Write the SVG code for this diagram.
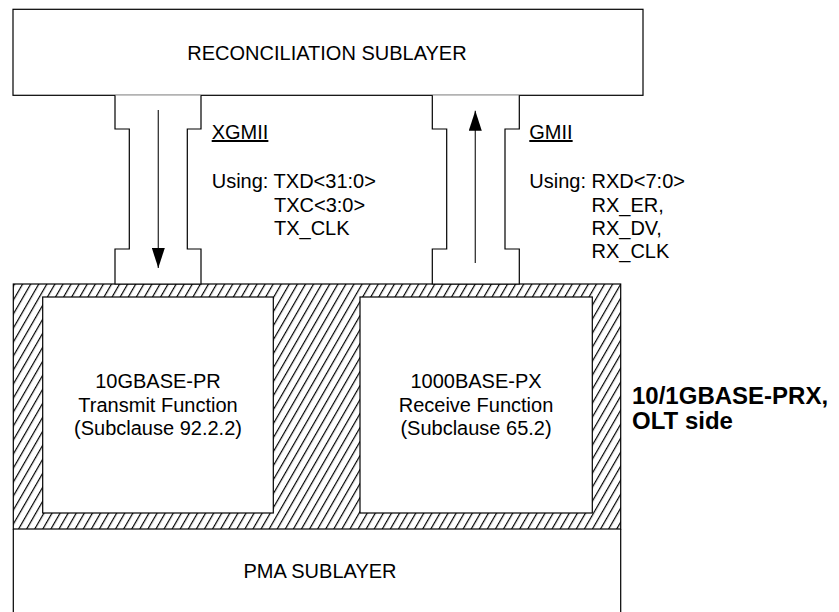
<svg xmlns="http://www.w3.org/2000/svg" width="839" height="612" viewBox="0 0 839 612">
<style>
.box{fill:#fff;stroke:#000;stroke-width:1.2}
.t{font-family:"Liberation Sans",Arial,sans-serif;font-size:20px;fill:#000}
.b{font-family:"Liberation Sans",Arial,sans-serif;font-size:24px;font-weight:bold;fill:#000}
.ln{stroke:#000;stroke-width:1.2;fill:none}
.arr{stroke:#333;stroke-width:1.3;fill:none}
</style>
<defs>
<pattern id="hatch" width="7" height="7" patternUnits="userSpaceOnUse" patternTransform="rotate(30)">
<rect width="7" height="7" fill="#fff"/>
<line x1="0.6" y1="0" x2="0.6" y2="7" stroke="#000" stroke-width="1.2"/>
</pattern>
<marker id="ah" markerWidth="20" markerHeight="13" refX="20" refY="6.5" orient="auto" markerUnits="userSpaceOnUse" viewBox="0 0 20 13">
<path d="M0,0 L20,6.5 L0,13 Z" fill="#000"/>
</marker>
</defs>
<g id="rs">
<rect class="box" x="13" y="9.3" width="630" height="86"/>
<text class="t" x="327" y="60" text-anchor="middle">RECONCILIATION SUBLAYER</text>
</g>
<g id="prx">
<rect x="13.3" y="284" width="607.4" height="245" fill="url(#hatch)" stroke="#000" stroke-width="1.2"/>
</g>
<g id="pma">
<path class="ln" d="M13.3,529 V612 M620.7,529 V612"/>
<text class="t" x="320" y="578" text-anchor="middle">PMA SUBLAYER</text>
</g>
<g id="tx">
<rect class="box" x="42.7" y="297" width="230.6" height="216"/>
<text class="t" x="158" y="388" text-anchor="middle">10GBASE-PR</text>
<text class="t" x="158" y="411.5" text-anchor="middle">Transmit Function</text>
<text class="t" x="158" y="435" text-anchor="middle">(Subclause 92.2.2)</text>
</g>
<g id="rx">
<rect class="box" x="360" y="297" width="232.3" height="216"/>
<text class="t" x="476" y="388" text-anchor="middle">1000BASE-PX</text>
<text class="t" x="476" y="411.5" text-anchor="middle">Receive Function</text>
<text class="t" x="476" y="435" text-anchor="middle">(Subclause 65.2)</text>
</g>
<g id="xgmii">
<path class="box" d="M115,95.3 V129 H129.3 V249 H115 V284 H201 V249 H187.3 V129 H201 V95.3"/>
<text class="t" x="211.7" y="139" text-decoration="underline">XGMII</text>
<text class="t" x="211.7" y="188">Using: TXD&lt;31:0&gt;</text>
<text class="t" x="274" y="211.5">TXC&lt;3:0&gt;</text>
<text class="t" x="274" y="235">TX_CLK</text>
</g>
<g id="gmii">
<path class="box" d="M432.3,95.3 V129 H446.7 V249 H432.3 V284 H519.3 V249 H505 V129 H519.3 V95.3"/>
<text class="t" x="529.3" y="139" text-decoration="underline">GMII</text>
<text class="t" x="529.3" y="188">Using: RXD&lt;7:0&gt;</text>
<text class="t" x="591.5" y="211.5">RX_ER,</text>
<text class="t" x="591.5" y="235">RX_DV,</text>
<text class="t" x="591.5" y="258">RX_CLK</text>
</g>
<g id="side">
<text class="b" x="632" y="404">10/1GBASE-PRX,</text>
<text class="b" x="632" y="429">OLT side</text>
</g>
<g id="connectors">
<line class="arr" x1="158.3" y1="110" x2="158.3" y2="268" marker-end="url(#ah)"/>
<line class="arr" x1="475.3" y1="263" x2="475.3" y2="110.7" marker-end="url(#ah)"/>
</g>
</svg>
